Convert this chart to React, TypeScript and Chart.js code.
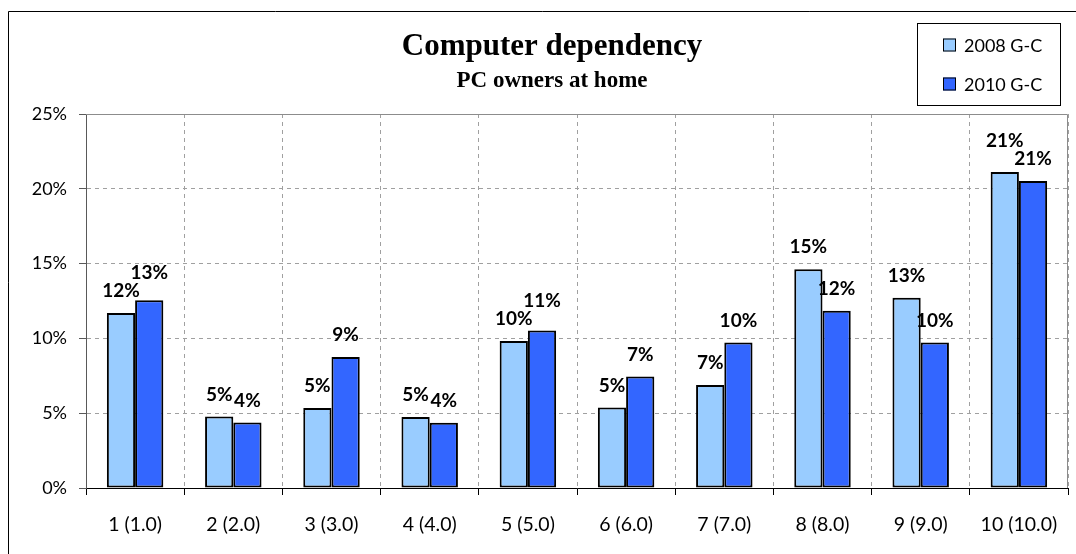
import React, { useEffect, useRef } from "react";
import { Chart, registerables } from "chart.js";

Chart.register(...registerables);

const TITLE = "Computer dependency";
const SUBTITLE = "PC owners at home";
const CATEGORIES = ["1 (1.0)", "2 (2.0)", "3 (3.0)", "4 (4.0)", "5 (5.0)", "6 (6.0)", "7 (7.0)", "8 (8.0)", "9 (9.0)", "10 (10.0)"];
const SERIES_NAMES = ["2008 G-C", "2010 G-C"];
const VALUES_2008 = [11.7, 4.78, 5.35, 4.75, 9.82, 5.38, 6.88, 14.62, 12.72, 21.13];
const VALUES_2010 = [12.55, 4.38, 8.75, 4.36, 10.52, 7.45, 9.73, 11.84, 9.73, 20.52];
const Y_MIN = 0;
const Y_MAX = 25;
const Y_STEP = 5;

const COLORS = ["#99CCFF", "#3366FF"];
const FONT = "Lato";

const W = 1076;
const H = 554;

const frame = {
  id: "frame",
  beforeDraw(chart: any) {
    const ctx = chart.ctx;
    ctx.save();
    ctx.fillStyle = "#fff";
    ctx.fillRect(0, 0, W, H);
    ctx.strokeStyle = "#000";
    ctx.lineWidth = 1;
    ctx.beginPath();
    ctx.moveTo(8.5, H);
    ctx.lineTo(8.5, 11.5);
    ctx.lineTo(W, 11.5);
    ctx.stroke();
    ctx.restore();
  },
  beforeDatasetsDraw(chart: any) {
    const { ctx, chartArea: a } = chart;
    ctx.save();
    ctx.strokeStyle = "#8c8c8c";
    ctx.lineWidth = 1;
    ctx.beginPath();
    ctx.moveTo(a.left, Math.round(a.top) + 0.5);
    ctx.lineTo(Math.round(a.right) - 0.5, Math.round(a.top) + 0.5);
    ctx.lineTo(Math.round(a.right) - 0.5, a.bottom);
    ctx.stroke();
    ctx.restore();
  },
  afterDraw(chart: any) {
    const ctx = chart.ctx;
    ctx.save();
    ctx.fillStyle = "#000";
    ctx.textAlign = "center";
    ctx.textBaseline = "alphabetic";
    ctx.font = 'bold 31px "Liberation Serif"';
    ctx.fillText(TITLE, 552, 55);
    ctx.font = 'bold 23px "Liberation Serif"';
    ctx.fillText(SUBTITLE, 552, 87);
    ctx.strokeStyle = "#000";
    ctx.lineWidth = 1;
    ctx.strokeRect(917.5, 23.5, 143, 82);
    chart.data.datasets.forEach((ds: any, i: number) => {
      const cy = 45 + i * 39;
      ctx.fillStyle = ds.backgroundColor;
      ctx.fillRect(943, cy - 6.5, 13, 13);
      ctx.strokeStyle = "#000";
      ctx.strokeRect(943.5, cy - 6, 12, 12);
      ctx.fillStyle = "#000";
      ctx.textAlign = "left";
      ctx.textBaseline = "middle";
      ctx.font = `18px ${FONT}`;
      ctx.fillText(ds.label, 964, cy + 1);
    });
    ctx.restore();
  },
};

const labels = {
  id: "barLabels",
  afterDatasetsDraw(chart: any) {
    const ctx = chart.ctx;
    ctx.save();
    ctx.font = `bold 19px ${FONT}`;
    ctx.fillStyle = "#000";
    ctx.textAlign = "center";
    ctx.textBaseline = "middle";
    const m0 = chart.getDatasetMeta(0);
    const m1 = chart.getDatasetMeta(1);
    const d0 = chart.data.datasets[0].data;
    const d1 = chart.data.datasets[1].data;
    for (let i = 0; i < m0.data.length; i++) {
      const b0 = m0.data[i];
      const b1 = m1.data[i];
      const t0 = Math.round(d0[i]) + "%";
      const t1 = Math.round(d1[i]) + "%";
      let y0 = b0.y - 22;
      let y1 = b1.y - 22;
      const w0 = ctx.measureText(t0).width;
      const w1 = ctx.measureText(t1).width;
      const hOverlap = b0.x + w0 / 2 > b1.x - w1 / 2 - 1;
      if (hOverlap && Math.abs(y0 - y1) < 18) {
        if (d0[i] >= d1[i]) y0 = y1 - 18;
        else y1 = y0 - 18;
      }
      ctx.fillText(t0, b0.x, y0);
      ctx.fillText(t1, b1.x, y1);
    }
    ctx.restore();
  },
};

export default function App() {
  const ref = useRef<HTMLCanvasElement | null>(null);
  useEffect(() => {
    if (!ref.current) return;
    const chart = new Chart(ref.current, {
      type: "bar",
      data: {
        labels: CATEGORIES,
        datasets: [
          {
            label: SERIES_NAMES[0],
            data: VALUES_2008,
            backgroundColor: COLORS[0],
            borderColor: "#000",
            borderWidth: 2,
            borderSkipped: false,
          },
          {
            label: SERIES_NAMES[1],
            data: VALUES_2010,
            backgroundColor: COLORS[1],
            borderColor: "#000",
            borderWidth: 2,
            borderSkipped: false,
          },
        ],
      },
      options: {
        animation: false,
        responsive: false,
        devicePixelRatio: 1,
        layout: { padding: { top: 114, right: 8, left: 0, bottom: 0 } },
        datasets: { bar: { categoryPercentage: 0.575, barPercentage: 1 } },
        plugins: {
          legend: { display: false },
          title: { display: false },
          tooltip: { enabled: false },
        },
        scales: {
          x: {
            grid: {
              display: true,
              offset: true,
              color: "#a0a0a0",
              lineWidth: 1,
              tickLength: 7,
              tickColor: "#000",
            },
            border: { display: true, color: "#000", width: 1, dash: [4, 4] },
            ticks: {
              color: "#000",
              font: { family: FONT, size: 19.5 },
              padding: 18,
              maxRotation: 0,
              autoSkip: false,
            },
            afterFit(scale: any) {
              scale.height = 66;
            },
          },
          y: {
            min: Y_MIN,
            max: Y_MAX,
            grid: {
              color: "#a0a0a0",
              lineWidth: 1,
              tickLength: 7,
              tickColor: "#595959",
            },
            border: { display: true, color: "#595959", width: 1, dash: [4, 4] },
            ticks: {
              stepSize: Y_STEP,
              color: "#000",
              font: { family: FONT, size: 18 },
              padding: 12,
              callback: (v: any) => v + "%",
            },
            afterFit(scale: any) {
              scale.width = 86;
            },
          },
        },
      },
      plugins: [frame, labels],
    });
    return () => chart.destroy();
  }, []);
  return (
    <div style={{ position: "fixed", left: 0, top: 0, width: W, height: H, overflow: "hidden", background: "#fff" }}>
      <canvas ref={ref} width={W} height={H} style={{ display: "block", width: W, height: H }} />
    </div>
  );
}
